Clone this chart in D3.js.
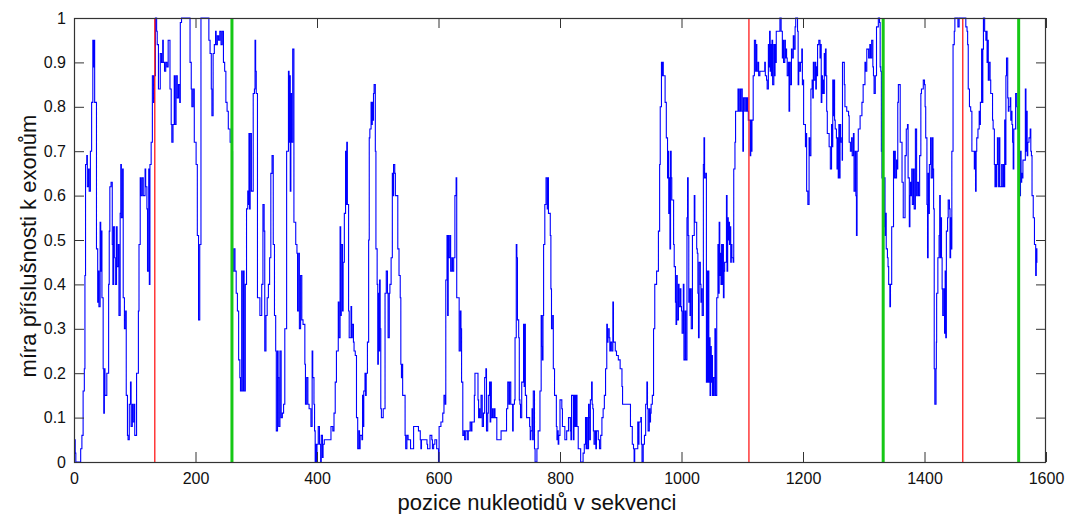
<!DOCTYPE html>
<html>
<head>
<meta charset="utf-8">
<script src="https://cdn.jsdelivr.net/npm/d3@7"></script>
<style>
  html, body { margin: 0; padding: 0; background: #fff; }
  svg { display: block; font-family: "Liberation Sans", Arial, sans-serif; }
</style>
</head>
<body>
<svg id="chart" width="1065" height="514"></svg>
<script>
// ---- data ----
const xTicks = [0, 200, 400, 600, 800, 1000, 1200, 1400, 1600];
const yTicks = [0, 0.1, 0.2, 0.3, 0.4, 0.5, 0.6, 0.7, 0.8, 0.9, 1];
const xLabel = "pozice nukleotidů v sekvenci";
const yLabel = "míra příslušnosti k exonům";
const redMarks = [133, 1111, 1463];
const greenMarks = [260, 1332, 1555];

// nucleotide position / membership value pairs (stair signal)
const position = [
0,2,3,10,11,13,15,17,18,19,21,22,24,25,27,29,31,32,33,34,37,39,40,41,43,44,45,46,48,49,50,51,54,57,58,59,61,63,64,65,67,68,70,71,73,74,76,77,78,80,81,83,85,86,88,89,91,93,94,96,97,99,100,103,106,107,109,110,112,114,117,118,120,121,123,124,125,127,129,131,132,134,136,137,139,142,144,146,147,149,151,153,155,158,160,161,163,165,166,168,170,172,174,175,177,189,191,193,194,196,198,201,203,205,207,209,
221,222,224,226,227,229,231,233,234,236,238,240,242,244,246,248,250,252,254,257,260,261,263,265,267,269,271,273,274,276,277,279,280,282,284,286,287,288,289,290,292,295,297,298,299,300,302,306,309,311,313,314,316,318,320,322,324,326,328,330,332,333,335,336,337,339,341,343,345,347,350,353,354,355,356,357,358,360,362,365,367,368,370,371,373,375,377,380,381,383,385,387,390,392,393,395,396,397,398,399,400,402,404,406,
407,409,410,412,422,423,426,428,430,432,435,436,438,439,440,442,443,445,447,448,449,450,452,453,456,457,458,460,461,463,465,467,469,470,471,474,475,476,477,479,480,481,483,485,486,487,489,490,491,492,493,494,496,497,499,500,501,502,503,504,505,506,509,512,514,516,517,519,520,522,524,525,526,528,529,531,533,535,537,538,539,540,541,545,546,548,550,553,554,559,567,570,571,572,581,582,586,589,590,592,594,597,600,601,604,607,609,611,612,
614,615,616,617,619,620,622,623,625,627,629,630,633,634,636,637,638,640,642,643,645,648,649,652,654,655,659,660,665,666,667,668,670,672,674,676,678,679,681,682,684,685,686,687,689,690,692,693,696,703,712,714,716,717,719,722,723,725,726,728,729,730,732,733,734,735,737,740,741,742,743,745,750,751,752,754,755,756,758,759,762,764,767,769,770,771,772,773,775,777,779,780,781,784,785,786,788,789,791,794,795,796,797,798,800,803,804,808,811,814,817,818,819,822,
823,824,825,826,827,828,830,834,838,840,842,843,844,845,847,848,849,850,852,853,854,855,856,858,859,860,863,865,867,869,871,873,875,877,878,879,881,882,883,885,887,888,891,893,896,899,902,903,916,919,921,922,923,928,929,930,933,934,935,937,939,941,943,944,945,947,948,949,950,952,954,956,959,962,964,965,967,968,969,970,973,975,977,978,979,980,981,982,983,984,987,988,990,991,992,993,995,996,998,999,1000,1001,1003,1004,1006,1007,1009,1010,1011,1012,1013,1014,1015,1016,1018,1021,1022,1025,1026,1027,1028,
1029,1031,1032,1033,1034,1036,1037,1038,1040,1041,1042,1043,1044,1045,1046,1047,1048,1049,1050,1051,1052,1053,1054,1055,1056,1058,1060,1061,1062,1063,1064,1065,1066,1067,1068,1069,1070,1071,1074,1075,1076,1077,1078,1079,1080,1081,1082,1083,1085,1086,1088,1089,1093,1094,1096,1097,1098,1100,1101,1102,1104,1105,1107,1108,1109,1110,1113,1114,1115,1116,1118,1120,1122,1123,1124,1126,1127,1129,1137,1138,1140,1141,1143,1144,1145,1146,1147,1148,1149,1150,1152,1153,1154,1155,1156,1162,1164,1166,1167,1168,1170,1171,1172,1173,1174,1176,1177,1178,1179,1181,1182,1184,1185,1187,1188,1190,1191,1192,1193,1194,1196,1198,1199,1200,1201,1203,1204,1205,1206,1208,1210,1211,1213,1215,1216,1217,1218,1220,1221,1222,1223,1224,1226,1228,1229,1230,1231,1232,1233,1234,1235,1236,1237,1238,
1239,1240,1242,1243,1244,1245,1247,1248,1249,1250,1251,1252,1253,1255,1256,1257,1258,1259,1260,1261,1262,1264,1264.5,1265,1268,1269,1272,1275,1276,1278,1280,1281,1283,1284,1286,1287,1288,1289,1291,1294,1297,1299,1302,1303,1305,1308,1310,1311,1313,1315,1316,1317,1319,1321,1324,1326,1327,1328,1329,1330,1332,1333,1335,1336,1337,1339,1340,1341,1343,1344,1346,1349,1350,1351,1352,1354,1355,1356,1357,1360,1362,1363,1365,1368,1370,1372,1373,1375,1376,1377,1378,1379,1380,1382,1383,1385,1387,1388,1390,1392,1394,1395,1398,1400,1401,1402,1404,1405,1406,1407,1408,1410,1411,1413,1414,1415,1416,1417,1419,1419.5,1420,1422,1424,1425,1426,1427,1428,1429,1430,1432,1433,1434,1435,1436,1438,1439,1441,1442,1443,1444,1445,1447,1449,1450,1455,1457,1468,1470,1471,1472,1474,1476,1477,1478,1482,1483,1484,1485,1486,1488,1490,1491,1492,1494,1495,1496,1497,1499,1501,1502,1503,1504,1505,1506,1508,1509,1512,1513,1515,1516,1517,1518,1519,1520,1521,1522,1523,1524,1527,1528,1530,1531,1532,1533,1534,1535,1537,1538,1539,1541,1542,1543,1544,1545,1546,1547,1549,1550,1552,1553,1555,1556,1557,1558,1559,1560,1561,1562,1566,1567,1568,1569,1570,1572,1574,1575,1576,1577,1579,1581,1583,1584,1585,1586
];
const membership = [
0.05,0.02,0,0,0.03,0.06,0.16,0.21,0.42,0.67,0.69,0.62,0.66,0.61,0.70,0.81,0.95,0.89,0.95,0.81,0.48,0.36,0.43,0.35,0.54,0.43,0.52,0.37,0.21,0.11,0.21,0.15,0.20,0.40,0.52,0.62,0.63,0.49,0.40,0.53,0.46,0.40,0.53,0.44,0.49,0.33,0.56,0.67,0.55,0.66,0.37,0.30,0.34,0.15,0.06,0.05,0.13,0.18,0.08,0.13,0.09,0.13,0.06,0.20,0.34,0.49,0.64,0.60,0.64,0.60,0.66,0.62,0.57,0.43,0.66,0.40,0.67,0.72,0.87,0.81,0.87,1.0,0.97,0.94,0.84,0.92,0.90,0.95,0.90,0.88,0.90,0.89,0.95,0.84,0.76,0.72,0.76,0.87,0.76,0.87,0.82,0.85,0.81,0.99,1.0,1.0,0.90,0.84,0.80,0.84,0.72,0.67,0.51,0.32,0.49,1.0,
1.0,0.95,0.92,0.84,0.78,0.92,0.94,0.97,0.94,0.96,0.95,0.97,0.94,0.97,0.90,0.88,0.81,0.79,0.75,0.72,0.70,0.43,0.48,0.43,0.38,0.34,0.23,0.19,0.16,0.43,0.16,0.43,0.16,0.40,0.57,0.61,0.58,0.74,0.57,0.74,0.61,0.83,0.84,0.95,0.88,0.83,0.37,0.33,0.40,0.58,0.52,0.25,0.33,0.37,0.40,0.46,0.65,0.69,0.49,0.33,0.25,0.07,0.25,0.19,0.08,0.25,0.10,0.11,0.13,0.30,0.70,0.88,0.72,0.87,0.61,0.83,0.72,0.93,0.54,0.49,0.47,0.34,0.47,0.30,0.42,0.32,0.31,0.22,0.13,0.19,0.13,0.12,0.08,0.25,0.19,0.13,0.07,0,0.04,0,0.04,0.08,0.04,0,
0.06,0.01,0.04,0.05,0.05,0.08,0.07,0.11,0.18,0.25,0.36,0.28,0.53,0.33,0.49,0.34,0.45,0.56,0.70,0.58,0.72,0.58,0.34,0.28,0.35,0.28,0.31,0.27,0.25,0.24,0.10,0.03,0.07,0.03,0.06,0.05,0.15,0.08,0.16,0.20,0.15,0.20,0.27,0.50,0.73,0.75,0.81,0.76,0.81,0.77,0.83,0.85,0.70,0.48,0.40,0.22,0.38,0.25,0.41,0.30,0.12,0.10,0.12,0.38,0.43,0.38,0.28,0.38,0.40,0.46,0.65,0.60,0.67,0.65,0.60,0.60,0.48,0.42,0.37,0.22,0.19,0.22,0.15,0.06,0.03,0.06,0.05,0.05,0.03,0.08,0.07,0.05,0.03,0.05,0.04,0.03,0.06,0.05,0.03,0.04,0.05,0.03,0,0.08,0.09,0.11,0.15,0.13,0.41,
0.51,0.33,0.51,0.46,0.51,0.43,0.46,0.43,0.46,0.60,0.64,0.37,0.37,0.25,0.34,0.30,0.18,0.06,0.07,0.05,0.07,0.05,0.07,0.09,0.07,0.09,0.15,0.20,0.14,0.10,0.12,0.10,0.15,0.08,0.11,0.19,0.21,0.07,0.11,0.15,0.18,0.09,0.18,0.10,0.12,0.10,0.12,0.10,0.05,0.07,0.12,0.18,0.13,0.18,0.13,0.07,0.13,0.14,0.28,0.49,0.46,0.32,0.28,0.14,0.13,0.10,0.18,0.31,0.17,0.31,0.15,0.10,0.08,0.05,0.07,0.12,0.05,0.16,0.03,0,0.03,0.07,0.16,0.33,0.26,0.23,0.33,0.49,0.58,0.64,0.57,0.64,0.56,0.51,0.39,0.30,0.33,0.21,0.15,0.08,0.05,0.07,0.04,0.06,0.14,0.12,0.08,0.05,0.07,0.10,0.07,0.05,0.15,0.05,
0.15,0.08,0.15,0.08,0.15,0.08,0.03,0,0.02,0.04,0.10,0.03,0.10,0.03,0.13,0.10,0.05,0.14,0.18,0.13,0.12,0.07,0.04,0.07,0.03,0.07,0.05,0.03,0.06,0.10,0.12,0.15,0.21,0.31,0.27,0.30,0.28,0.25,0.27,0.25,0.36,0.27,0.25,0.24,0.23,0.21,0.17,0.13,0.08,0.04,0.03,0,0.03,0.09,0.04,0.09,0.10,0.04,0,0.04,0.06,0.13,0.18,0.12,0.07,0.12,0.09,0.11,0.13,0.15,0.30,0.40,0.43,0.52,0.67,0.80,0.90,0.87,0.90,0.87,0.81,0.73,0.64,0.70,0.56,0.64,0.48,0.70,0.64,0.59,0.49,0.44,0.36,0.31,0.42,0.32,0.40,0.35,0.39,0.35,0.34,0.29,0.40,0.23,0.34,0.23,0.55,0.64,0.51,0.36,0.39,0.33,0.39,0.30,0.51,0.60,0.54,0.48,0.47,0.38,0.28,
0.45,0.40,0.36,0.39,0.33,0.67,0.73,0.64,0.65,0.18,0.43,0.18,0.43,0.18,0.28,0.15,0.26,0.18,0.24,0.15,0.19,0.15,0.19,0.30,0.15,0.37,0.49,0.38,0.54,0.42,0.47,0.40,0.49,0.40,0.49,0.37,0.43,0.45,0.60,0.43,0.55,0.50,0.54,0.49,0.53,0.45,0.49,0.46,0.45,0.66,0.72,0.79,0.84,0.79,0.84,0.79,0.84,0.79,0.70,0.82,0.79,0.82,0.79,0.82,0.79,0.77,0.69,0.77,0.70,0.77,0.87,0.95,0.88,0.94,0.88,0.90,0.87,0.88,0.90,0.87,0.86,0.84,0.94,0.89,0.97,0.88,0.94,0.87,0.95,0.85,0.94,0.87,0.94,0.90,0.97,1.0,0.97,0.91,0.95,0.90,0.95,0.91,0.93,0.91,0.87,0.90,0.79,0.90,0.85,0.93,0.91,0.96,0.93,0.98,1.0,1.0,0.97,0.85,0.90,0.88,0.90,0.93,0.85,0.86,0.76,0.76,0.71,0.74,0.61,0.58,0.73,0.69,0.84,0.86,0.82,0.90,0.86,0.90,0.84,0.89,0.87,0.94,0.95,0.91,0.94,0.81,0.87,0.83,0.86,0.83,0.92,0.87,0.93,0.87,
0.79,0.74,0.74,0.71,0.71,0.66,0.76,0.71,0.86,0.78,0.86,0.77,0.75,0.73,0.66,0.73,0.64,0.76,0.64,0.76,0.72,0.73,0.68,0.90,0.85,0.80,0.79,0.78,0.72,0.70,0.73,0.69,0.74,0.61,0.70,0.60,0.51,0.70,0.75,0.78,0.81,0.85,0.90,0.88,0.93,0.91,0.94,0.91,0.95,0.89,0.87,0.83,0.87,0.98,1.0,0.99,0.89,0.88,0.70,0.64,0.53,0.64,0.51,0.56,0.48,0.46,0.44,0.40,0.35,0.40,0.53,0.70,0.64,0.70,0.64,0.68,0.66,0.81,0.85,0.72,0.72,0.63,0.55,0.69,0.75,0.76,0.64,0.53,0.60,0.63,0.60,0.66,0.58,0.66,0.57,0.75,0.60,0.63,0.60,0.69,0.83,0.84,0.86,0.85,0.80,0.73,0.58,0.46,0.65,0.56,0.67,0.73,0.64,0.73,0.66,0.57,0.21,0.13,0.21,0.27,0.38,0.46,0.51,0.60,0.46,0.55,0.46,0.39,0.33,0.39,0.29,0.43,0.28,0.52,0.55,0.59,0.57,0.46,0.55,0.48,0.70,0.94,0.97,1.0,0.98,1.0,0.98,0.97,0.94,0.84,0.80,0.79,0.79,0.70,0.66,0.70,0.61,0.70,0.73,0.75,0.79,0.76,0.81,0.93,0.81,0.93,1.0,0.97,0.95,0.97,0.90,0.95,0.86,0.90,0.86,0.83,0.77,0.75,0.67,0.62,0.67,0.62,0.67,0.73,0.67,0.62,0.73,0.62,0.67,0.62,0.67,0.62,0.77,0.67,0.87,0.91,0.82,0.79,0.80,0.82,0.77,0.79,0.76,0.72,0.66,0.75,0.75,0.83,0.80,0.75,0.60,0.70,0.60,0.70,0.63,0.65,0.64,0.68,0.84,0.70,0.79,0.69,0.72,0.73,0.75,0.70,0.69,0.60,0.55,0.49,0.42,0.48,0.45,0.45
];

// ---- layout ----
const W = 1065, H = 514;
const plot = { left: 74, top: 18, right: 1046, bottom: 462 };

const svg = d3.select("#chart");
const x = d3.scaleLinear().domain([0, 1600]).range([plot.left, plot.right]);
const y = d3.scaleLinear().domain([0, 1]).range([plot.bottom, plot.top]);

const points = position.map((p, i) => [p, membership[i]]);

// clip
svg.append("clipPath").attr("id", "clip")
  .append("rect")
  .attr("x", plot.left).attr("y", plot.top - 1)
  .attr("width", plot.right - plot.left).attr("height", plot.bottom - plot.top + 2);

const g = svg.append("g").attr("clip-path", "url(#clip)");

// blue signal
const line = d3.line().x(d => x(d[0])).y(d => y(d[1])).curve(d3.curveStepAfter);
g.append("path")
  .datum(points)
  .attr("d", line)
  .attr("fill", "none")
  .attr("stroke", "#0000ff")
  .attr("stroke-width", 1.1);

// red markers
g.selectAll("line.red").data(redMarks).join("line")
  .attr("class", "red")
  .attr("x1", d => x(d)).attr("x2", d => x(d))
  .attr("y1", y(0)).attr("y2", y(1))
  .attr("stroke", "#ff1a1a").attr("stroke-width", 1.3);

// green markers
g.selectAll("line.green").data(greenMarks).join("line")
  .attr("class", "green")
  .attr("x1", d => x(d)).attr("x2", d => x(d))
  .attr("y1", y(0)).attr("y2", y(1))
  .attr("stroke", "#16c816").attr("stroke-width", 3);

// axes
const axisColor = "#333";
function styleAxis(sel) {
  sel.select(".domain").remove();
  sel.selectAll(".tick line").attr("stroke", axisColor).attr("stroke-width", 1);
  sel.selectAll(".tick text").attr("fill", "#111").style("font-size", "16px");
}

svg.append("g").attr("transform", `translate(0,${plot.bottom})`)
  .call(d3.axisBottom(x).tickValues(xTicks).tickSizeInner(-10).tickSizeOuter(0).tickPadding(11).tickFormat(d3.format("d")))
  .call(styleAxis);
svg.append("g").attr("transform", `translate(0,${plot.top})`)
  .call(d3.axisTop(x).tickValues(xTicks).tickSizeInner(-10).tickSizeOuter(0).tickFormat(""))
  .call(styleAxis);
svg.append("g").attr("transform", `translate(${plot.left},0)`)
  .call(d3.axisLeft(y).tickValues(yTicks).tickSizeInner(-10).tickSizeOuter(0).tickPadding(8).tickFormat(d => String(d)))
  .call(styleAxis);
svg.append("g").attr("transform", `translate(${plot.right},0)`)
  .call(d3.axisRight(y).tickValues(yTicks).tickSizeInner(-10).tickSizeOuter(0).tickFormat(""))
  .call(styleAxis);

// frame
svg.append("rect")
  .attr("x", plot.left + 0.5).attr("y", plot.top + 0.5)
  .attr("width", plot.right - plot.left - 1).attr("height", plot.bottom - plot.top)
  .attr("fill", "none").attr("stroke", axisColor).attr("stroke-width", 1.2);

// axis titles
svg.append("text")
  .attr("x", 537).attr("y", 510)
  .attr("text-anchor", "middle")
  .style("font-size", "22px").attr("fill", "#111")
  .text(xLabel);

svg.append("text")
  .attr("transform", "translate(36,246) rotate(-90)")
  .attr("text-anchor", "middle")
  .style("font-size", "22px").attr("fill", "#111")
  .text(yLabel);
</script>
</body>
</html>
